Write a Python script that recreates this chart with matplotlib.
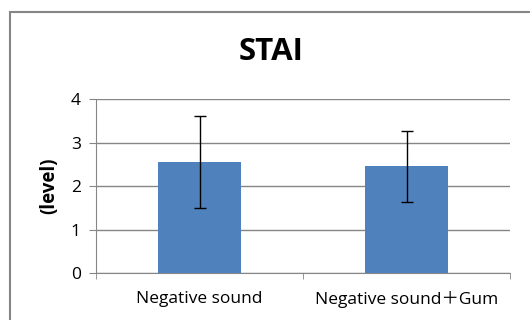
import numpy as np
import matplotlib
matplotlib.use("Agg")
import matplotlib.pyplot as plt
from matplotlib.patches import Rectangle

# chart data
categories = ["Negative sound", "Negative sound\uff0bGum"]
means      = [2.55, 2.45]
errors     = [1.05, 0.81]
yticks     = [0, 1, 2, 3, 4]

plt.rcParams["font.family"] = ["Open Sans", "Noto Sans CJK JP", "DejaVu Sans"]

fig = plt.figure(figsize=(5.3, 3.2), dpi=100)
fig.patch.set_facecolor("white")

# outer chart frame (clipped at right and bottom like the source)
fig.patches.append(Rectangle((10/530, -0.2), 1.2, 1 - 12/320 + 0.2, transform=fig.transFigure,
                             fill=False, edgecolor="#868686", linewidth=1.5))

ax = fig.add_axes([96/530, 1 - 273/320, 414/530, 174/320])
x = np.arange(len(categories))
ax.bar(x, means, width=0.4, color="#4F81BD", zorder=3)
ax.errorbar(x, means, yerr=errors, fmt="none", ecolor="black", elinewidth=1,
            capsize=4, capthick=1, zorder=4)

ax.set_xlim(-0.5, len(categories) - 0.5)
ax.set_ylim(0, 4)
ax.set_yticks(yticks)
ax.set_yticklabels([str(t) for t in yticks], fontsize=12.5)
ax.yaxis.grid(True, color="#868686", linewidth=1)
ax.set_axisbelow(True)

ax.set_xticks(x)
ax.set_xticklabels(categories, fontsize=12.5)
ax.tick_params(axis="x", which="major", length=0, pad=13)
ax.set_xticks(np.arange(-0.5, len(categories), 1.0), minor=True)
ax.tick_params(axis="x", which="minor", length=4, color="#868686")
ax.tick_params(axis="y", length=5, color="#868686", pad=6)

for s in ["top", "right"]:
    ax.spines[s].set_visible(False)
for s in ["left", "bottom"]:
    ax.spines[s].set_color("#868686")

ax.set_ylabel("(level)", fontsize=13.5, fontweight="bold", labelpad=8)
fig.text(271/530, 1 - 52/320, "STAI", ha="center", va="center", fontsize=22.5, fontweight="bold")

plt.savefig("out.png", dpi=100)
